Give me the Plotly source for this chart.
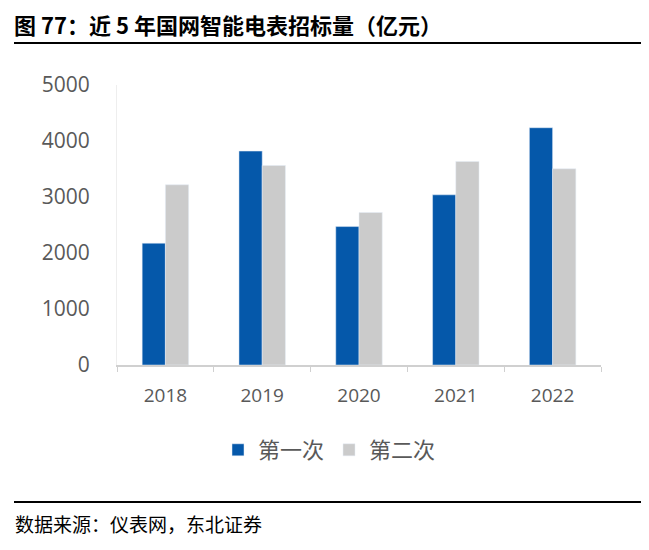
import plotly.graph_objects as go

years = ["2018", "2019", "2020", "2021", "2022"]
first_round = [2175, 3820, 2472, 3039, 4237]
second_round = [3218, 3563, 2723, 3635, 3504]
series_names = ["第一次", "第二次"]
y_ticks = [0, 1000, 2000, 3000, 4000, 5000]

OFF = 8  # page body margin
W, H = 649 - OFF, 550 - OFF
L, R, T, B = 117 - OFF, 601 - OFF, 85 - OFF, 365 - OFF  # plot area pixel edges
pw, ph = R - L, B - T

def px_x(x):
    return (x - OFF - L) / pw

def px_y(y):
    return (B - (y - OFF)) / ph

fig = go.Figure()
fig.add_trace(go.Bar(x=years, y=first_round, name=series_names[0], marker_color="#0558AA"))
fig.add_trace(go.Bar(x=years, y=second_round, name=series_names[1], marker_color="#CBCBCB"))

fig.update_layout(
    width=W, height=H, autosize=False,
    margin=dict(l=L, r=W - R, t=T, b=H - B, pad=0),
    plot_bgcolor="white", paper_bgcolor="white",
    barmode="group", bargap=0.52, bargroupgap=0,
    font=dict(family="Open Sans, Noto Sans CJK SC", color="#595959"),
    showlegend=True,
    legend=dict(orientation="h", x=px_x(218), xanchor="left", y=px_y(450), yanchor="middle",
                font=dict(size=22, family="Noto Sans CJK SC", color="#595959"),
                itemwidth=30, traceorder="normal"),
    xaxis=dict(showline=True, linecolor="#D0D0D0", linewidth=1.5, tickson="boundaries",
               ticks="outside", ticklen=5, tickcolor="#D0D0D0",
               tickfont=dict(size=19, color="#595959"), ticklabelstandoff=12),
    yaxis=dict(range=[0, 5000], tickvals=y_ticks, showgrid=False, zeroline=False,
               showline=True, linecolor="#EEEEEE", linewidth=1,
               tickfont=dict(size=21, color="#595959"), ticklabelstandoff=22),
)

# title and lines
fig.add_annotation(text="<b>图 77：近 5 年国网智能电表招标量（亿元）</b>", xref="paper", yref="paper",
                   x=px_x(13), y=px_y(24), xanchor="left", yanchor="middle", showarrow=False,
                   borderpad=0,
                   font=dict(size=22, family="Noto Sans CJK SC", color="black"))
fig.add_shape(type="line", xref="paper", yref="paper", x0=px_x(14), x1=px_x(649),
              y0=px_y(43), y1=px_y(43), line=dict(color="black", width=2))
fig.add_shape(type="line", xref="paper", yref="paper", x0=px_x(14), x1=px_x(649),
              y0=px_y(502), y1=px_y(502), line=dict(color="black", width=2))
fig.add_annotation(text="数据来源：仪表网，东北证券", xref="paper", yref="paper",
                   x=px_x(13), y=px_y(523), xanchor="left", yanchor="middle", showarrow=False,
                   font=dict(size=19, family="Noto Sans CJK SC", color="black"))

fig.write_html("out.html")
